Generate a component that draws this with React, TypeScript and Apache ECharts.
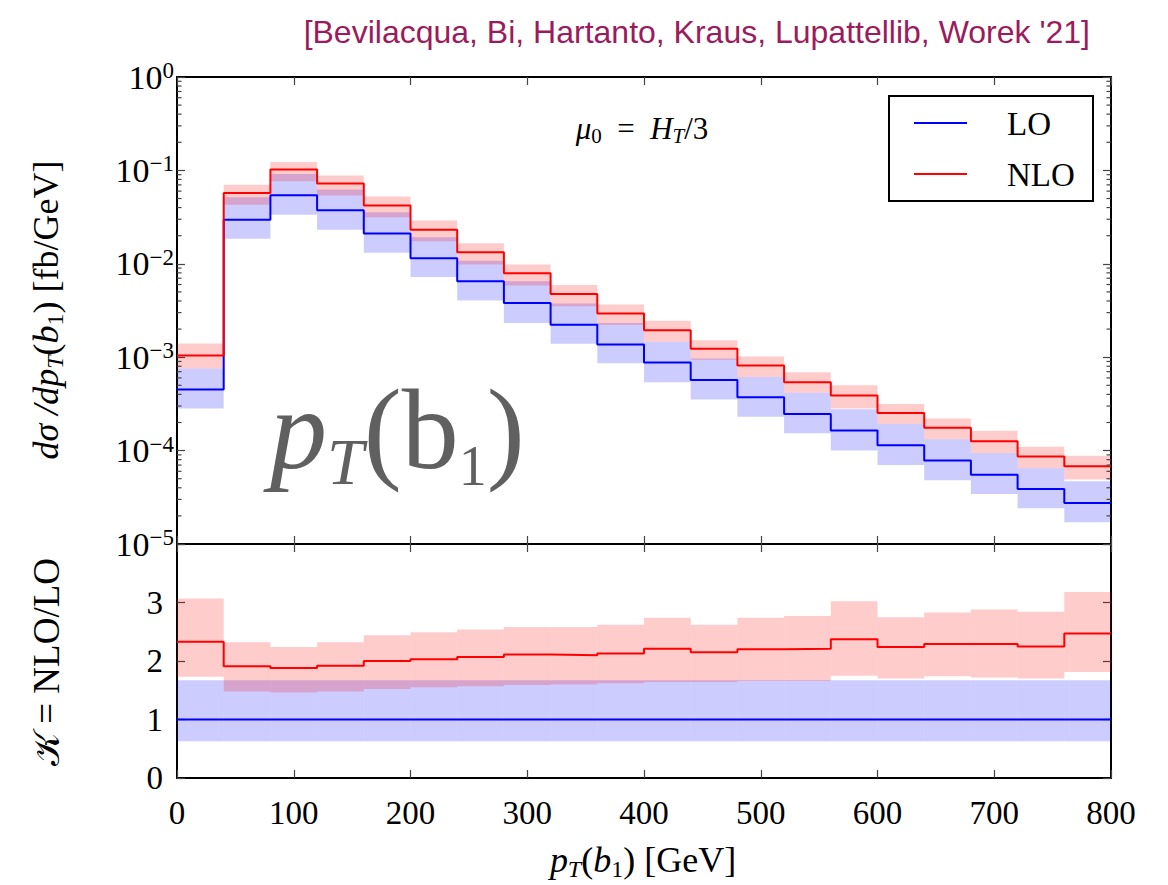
import React, { useEffect, useRef } from "react";
import * as echarts from "echarts";

// Bin edges of the b1 transverse-momentum histogram [GeV]
const binEdges = [0, 40, 80, 120, 160, 200, 240, 280, 320, 360, 400, 440, 480, 520, 560, 600, 640, 680, 720, 760, 800];

// dσ/dpT(b1) [fb/GeV], LO with scale-variation envelope
const loCentral = [4.5e-4, 0.0297, 0.0541, 0.0374, 0.0211, 0.01145, 0.0065, 0.00381, 0.00223, 0.00137, 8.75e-4, 5.71e-4, 3.72e-4, 2.47e-4, 1.64e-4, 1.14e-4, 7.82e-5, 5.53e-5, 3.89e-5, 2.75e-5];
const loHigh = [7.55e-4, 0.0515, 0.0917, 0.0623, 0.0356, 0.0192, 0.0108, 0.0065, 0.00375, 0.00233, 0.00146, 9.66e-4, 6.15e-4, 4.15e-4, 2.77e-4, 1.93e-4, 1.32e-4, 9.45e-5, 6.46e-5, 4.69e-5];
const loLow = [2.82e-4, 0.0186, 0.0336, 0.0232, 0.0131, 0.00724, 0.00404, 0.00233, 0.00139, 8.6e-4, 5.38e-4, 3.52e-4, 2.3e-4, 1.53e-4, 1.0e-4, 7.03e-5, 4.81e-5, 3.44e-5, 2.41e-5, 1.71e-5];

// dσ/dpT(b1) [fb/GeV], NLO with scale-variation envelope
const nloCentral = [1.04e-3, 0.0574, 0.102, 0.0722, 0.042, 0.0232, 0.01327, 0.0079, 0.00476, 0.00293, 0.00194, 0.00123, 8.13e-4, 5.38e-4, 3.88e-4, 2.53e-4, 1.76e-4, 1.26e-4, 8.63e-5, 6.79e-5];
const nloHigh = [1.4e-3, 0.07, 0.123, 0.088, 0.0524, 0.029, 0.01657, 0.0098, 0.00594, 0.00366, 0.00245, 0.00152, 0.00102, 6.89e-4, 5.0e-4, 3.16e-4, 2.2e-4, 1.63e-4, 1.1e-4, 8.83e-5];
const nloLow = [7.55e-4, 0.043, 0.0764, 0.054, 0.0315, 0.0174, 0.0098, 0.00585, 0.00351, 0.00222, 0.00146, 9.4e-4, 6.15e-4, 4.15e-4, 2.82e-4, 1.93e-4, 1.32e-4, 9.45e-5, 6.46e-5, 4.89e-5];

// K-factor panel: NLO/LO and LO/LO with their envelopes
const kCentral = [2.33, 1.91, 1.88, 1.92, 2.0, 2.03, 2.07, 2.11, 2.1, 2.13, 2.21, 2.15, 2.2, 2.21, 2.37, 2.24, 2.29, 2.29, 2.25, 2.47];
const kHigh = [3.07, 2.32, 2.24, 2.32, 2.44, 2.49, 2.54, 2.58, 2.58, 2.62, 2.74, 2.62, 2.74, 2.77, 3.02, 2.75, 2.83, 2.88, 2.84, 3.18];
const kLow = [1.73, 1.48, 1.46, 1.48, 1.52, 1.55, 1.57, 1.59, 1.6, 1.62, 1.64, 1.64, 1.66, 1.66, 1.75, 1.7, 1.74, 1.72, 1.7, 1.81];
const loRatio = [1, 1, 1, 1, 1, 1, 1, 1, 1, 1, 1, 1, 1, 1, 1, 1, 1, 1, 1, 1];
const loRatioHigh = [1.67, 1.67, 1.67, 1.67, 1.67, 1.67, 1.67, 1.67, 1.67, 1.67, 1.67, 1.67, 1.67, 1.67, 1.67, 1.67, 1.67, 1.67, 1.67, 1.67];
const loRatioLow = [0.63, 0.63, 0.63, 0.63, 0.63, 0.63, 0.63, 0.63, 0.63, 0.63, 0.63, 0.63, 0.63, 0.63, 0.63, 0.63, 0.63, 0.63, 0.63, 0.63];

const xTicks = { min: 0, max: 800, interval: 100 };
const ratioTicks = { min: 0, max: 4, interval: 1 };
const logRange = { min: 1e-5, max: 1 };

const SERIF = '"Liberation Serif", "DejaVu Serif", serif';
const SANS = '"Liberation Sans", Arial, sans-serif';
const BLUE = "#0000ff";
const RED = "#ff0000";
const BLUE_BAND = "rgba(0, 0, 255, 0.2)";
const RED_BAND = "rgba(255, 0, 0, 0.2)";

function stepData(values: number[]) {
  const pts = values.map((v, i) => [binEdges[i], v]);
  pts.push([binEdges[values.length], values[values.length - 1]]);
  return pts;
}

function bandData(low: number[], high: number[]) {
  return low.map((lo, i) => [binEdges[i], binEdges[i + 1], lo, high[i]]);
}

function bandRender(fill: string) {
  return (_params: any, api: any) => {
    const p0 = api.coord([api.value(0), api.value(3)]);
    const p1 = api.coord([api.value(1), api.value(2)]);
    return {
      type: "rect",
      shape: { x: p0[0], y: p0[1], width: p1[0] - p0[0], height: p1[1] - p0[1] },
      style: { fill },
      silent: true,
    };
  };
}

// minor ticks of the log axis (2..9 per decade), drawn on both frame sides
const minorTickValues: number[] = [];
for (let d = -5; d < 0; d++) {
  for (let m = 2; m <= 9; m++) minorTickValues.push(m * Math.pow(10, d));
}

function minorTickRender(_params: any, api: any) {
  const v = api.value(1);
  const pl = api.coord([xTicks.min, v]);
  const pr = api.coord([xTicks.max, v]);
  const s = { stroke: "#444", lineWidth: 1.2 };
  return {
    type: "group",
    children: [
      { type: "line", shape: { x1: pl[0], y1: pl[1], x2: pl[0] + 4.5, y2: pl[1] }, style: s },
      { type: "line", shape: { x1: pr[0] - 4.5, y1: pr[1], x2: pr[0], y2: pr[1] }, style: s },
    ],
    silent: true,
  };
}

const frameLine = { show: true, onZero: false, lineStyle: { color: "#000", width: 2 } };
const innerTick = { show: true, inside: true, length: 8, lineStyle: { color: "#444", width: 1.2 } };
const noLabel = { show: false };
const noSplit = { show: false };

function logLabel(v: number) {
  const e = Math.round(Math.log10(v));
  const s = e < 0 ? "\u2212" + Math.abs(e) : String(e);
  return `{b|10}{s|${s}}`;
}

// rich-text styles for math-like labels (italic symbols, roman text, lowered subscripts)
function mathRich(size: number, subSize: number, lh: number, subLh: number, fill: string) {
  return {
    i: { fontFamily: SERIF, fontStyle: "italic", fontSize: size, lineHeight: lh, fill },
    r: { fontFamily: SERIF, fontSize: size, lineHeight: lh, fill },
    t: { fontFamily: SERIF, fontStyle: "italic", fontSize: subSize, lineHeight: subLh, verticalAlign: "bottom", fill },
    s: { fontFamily: SERIF, fontSize: subSize, lineHeight: subLh, verticalAlign: "bottom", fill },
  };
}

export default function App() {
  const ref = useRef<HTMLDivElement>(null);

  useEffect(() => {
    document.body.style.margin = "0";
    if (!ref.current) return;
    const chart = echarts.init(ref.current, undefined, { renderer: "svg" });

    const option: any = {
      animation: false,
      backgroundColor: "#fff",
      grid: [
        { left: 177, top: 77, width: 934, height: 467 },
        { left: 177, top: 544, width: 934, height: 234 },
      ],
      xAxis: [
        { type: "value", gridIndex: 0, position: "bottom", ...xTicks, axisLine: frameLine, axisTick: innerTick, axisLabel: noLabel, splitLine: noSplit },
        { type: "value", gridIndex: 0, position: "top", ...xTicks, axisLine: frameLine, axisTick: innerTick, axisLabel: noLabel, splitLine: noSplit },
        {
          type: "value", gridIndex: 1, position: "bottom", ...xTicks, axisLine: frameLine, axisTick: innerTick, splitLine: noSplit,
          axisLabel: { show: true, margin: 18, color: "#000", fontFamily: SERIF, fontSize: 33 },
        },
        { type: "value", gridIndex: 1, position: "top", ...xTicks, axisLine: frameLine, axisTick: innerTick, axisLabel: noLabel, splitLine: noSplit },
      ],
      yAxis: [
        {
          type: "log", logBase: 10, gridIndex: 0, position: "left", ...logRange, splitNumber: 5,
          axisLine: frameLine, axisTick: innerTick, splitLine: noSplit,
          axisLabel: {
            show: true, margin: 3, formatter: logLabel,
            rich: {
              b: { fontFamily: SERIF, fontSize: 34, color: "#000", lineHeight: 36 },
              s: { fontFamily: SERIF, fontSize: 23, color: "#000", lineHeight: 16, verticalAlign: "top" },
            },
          },
        },
        {
          type: "log", logBase: 10, gridIndex: 0, position: "right", ...logRange, splitNumber: 5,
          axisLine: frameLine, axisTick: innerTick, axisLabel: noLabel, splitLine: noSplit,
        },
        {
          type: "value", gridIndex: 1, position: "left", ...ratioTicks,
          axisLine: frameLine, axisTick: innerTick, splitLine: noSplit,
          axisLabel: {
            show: true, margin: 14, color: "#000", fontFamily: SERIF, fontSize: 33,
            formatter: (v: number) => (v === ratioTicks.max ? "" : String(v)),
          },
        },
        {
          type: "value", gridIndex: 1, position: "right", ...ratioTicks,
          axisLine: frameLine, axisTick: innerTick, axisLabel: noLabel, splitLine: noSplit,
        },
      ],
      series: [
        {
          name: "LO band", type: "custom", xAxisIndex: 0, yAxisIndex: 0, z: 1,
          encode: { x: [0, 1], y: [2, 3] }, renderItem: bandRender(BLUE_BAND), data: bandData(loLow, loHigh),
        },
        {
          name: "NLO band", type: "custom", xAxisIndex: 0, yAxisIndex: 0, z: 2,
          encode: { x: [0, 1], y: [2, 3] }, renderItem: bandRender(RED_BAND), data: bandData(nloLow, nloHigh),
        },
        {
          name: "LO", type: "line", xAxisIndex: 0, yAxisIndex: 0, step: "end", z: 3, showSymbol: false, symbol: "none",
          lineStyle: { color: BLUE, width: 2 }, data: stepData(loCentral),
        },
        {
          name: "NLO", type: "line", xAxisIndex: 0, yAxisIndex: 0, step: "end", z: 4, showSymbol: false, symbol: "none",
          lineStyle: { color: RED, width: 2 }, data: stepData(nloCentral),
        },
        {
          name: "minor ticks", type: "custom", xAxisIndex: 0, yAxisIndex: 0, z: 5, clip: false,
          encode: { x: 0, y: 1 }, renderItem: minorTickRender, data: minorTickValues.map((v) => [xTicks.min, v]),
        },
        {
          name: "LO ratio band", type: "custom", xAxisIndex: 2, yAxisIndex: 2, z: 1,
          encode: { x: [0, 1], y: [2, 3] }, renderItem: bandRender(BLUE_BAND), data: bandData(loRatioLow, loRatioHigh),
        },
        {
          name: "K band", type: "custom", xAxisIndex: 2, yAxisIndex: 2, z: 2,
          encode: { x: [0, 1], y: [2, 3] }, renderItem: bandRender(RED_BAND), data: bandData(kLow, kHigh),
        },
        {
          name: "LO ratio", type: "line", xAxisIndex: 2, yAxisIndex: 2, step: "end", z: 3, showSymbol: false, symbol: "none",
          lineStyle: { color: BLUE, width: 2 }, data: stepData(loRatio),
        },
        {
          name: "K", type: "line", xAxisIndex: 2, yAxisIndex: 2, step: "end", z: 4, showSymbol: false, symbol: "none",
          lineStyle: { color: RED, width: 2 }, data: stepData(kCentral),
        },
      ],
      graphic: [
        {
          type: "text", right: 78, top: 16, z: 10,
          style: { text: "[Bevilacqua, Bi, Hartanto, Kraus, Lupattellib, Worek '21]", font: `32px ${SANS}`, fill: "#9b1b5c" },
        },
        {
          type: "text", x: 642, y: 128, z: 10,
          style: {
            text: "{i|\u03bc}{s|0}{r|  =  }{i|H}{t|T}{r|/3}", align: "center", verticalAlign: "middle",
            rich: mathRich(31, 21, 36, 18, "#000"),
          },
        },
        {
          type: "text", x: 270, y: 364, z: 10,
          style: {
            text: "{i|p}{t|T}{r|(b}{s|1}{r|)}", align: "left", verticalAlign: "top",
            rich: {
              i: { fontFamily: SERIF, fontStyle: "italic", fontSize: 114, lineHeight: 130, fill: "#606060" },
              r: { fontFamily: SERIF, fontSize: 114, lineHeight: 130, fill: "#606060" },
              t: { fontFamily: SERIF, fontStyle: "italic", fontSize: 66, lineHeight: 70, verticalAlign: "bottom", fill: "#606060" },
              s: { fontFamily: SERIF, fontSize: 56, lineHeight: 60, verticalAlign: "bottom", fill: "#606060" },
            },
          },
        },
        {
          type: "rect", z: 10,
          shape: { x: 889, y: 96, width: 204, height: 105 },
          style: { fill: "#fff", stroke: "#000", lineWidth: 2 },
        },
        { type: "line", z: 11, shape: { x1: 914, y1: 123, x2: 967, y2: 123 }, style: { stroke: BLUE, lineWidth: 2 } },
        { type: "line", z: 11, shape: { x1: 914, y1: 174, x2: 967, y2: 174 }, style: { stroke: RED, lineWidth: 2 } },
        { type: "text", z: 11, x: 1007, y: 124, style: { text: "LO", font: `33px ${SERIF}`, fill: "#000", verticalAlign: "middle" } },
        { type: "text", z: 11, x: 1007, y: 175, style: { text: "NLO", font: `33px ${SERIF}`, fill: "#000", verticalAlign: "middle" } },
        {
          type: "text", x: 46, y: 310, rotation: Math.PI / 2, z: 10,
          style: {
            text: "{i|d\u03c3 /dp}{t|T}{r|(}{i|b}{s|1}{r|) [fb/GeV]}", align: "center", verticalAlign: "middle",
            rich: mathRich(36, 24, 42, 20, "#000"),
          },
        },
        {
          type: "text", x: 46, y: 662, rotation: Math.PI / 2, z: 10,
          style: {
            text: "{k|\ud835\udca6}{r| = NLO/LO}", align: "center", verticalAlign: "middle",
            rich: {
              k: { fontFamily: '"DejaVu Sans", "DejaVu Serif", serif', fontSize: 36, lineHeight: 42, fill: "#000" },
              r: { fontFamily: SERIF, fontSize: 37, lineHeight: 42, fill: "#000" },
            },
          },
        },
        {
          type: "text", x: 643, y: 860, z: 10,
          style: {
            text: "{i|p}{t|T}{r|(}{i|b}{s|1}{r|) [GeV]}", align: "center", verticalAlign: "middle",
            rich: mathRich(36, 24, 42, 20, "#000"),
          },
        },
      ],
    };

    chart.setOption(option);
    return () => chart.dispose();
  }, []);

  return <div ref={ref} style={{ width: 1168, height: 885 }} />;
}
